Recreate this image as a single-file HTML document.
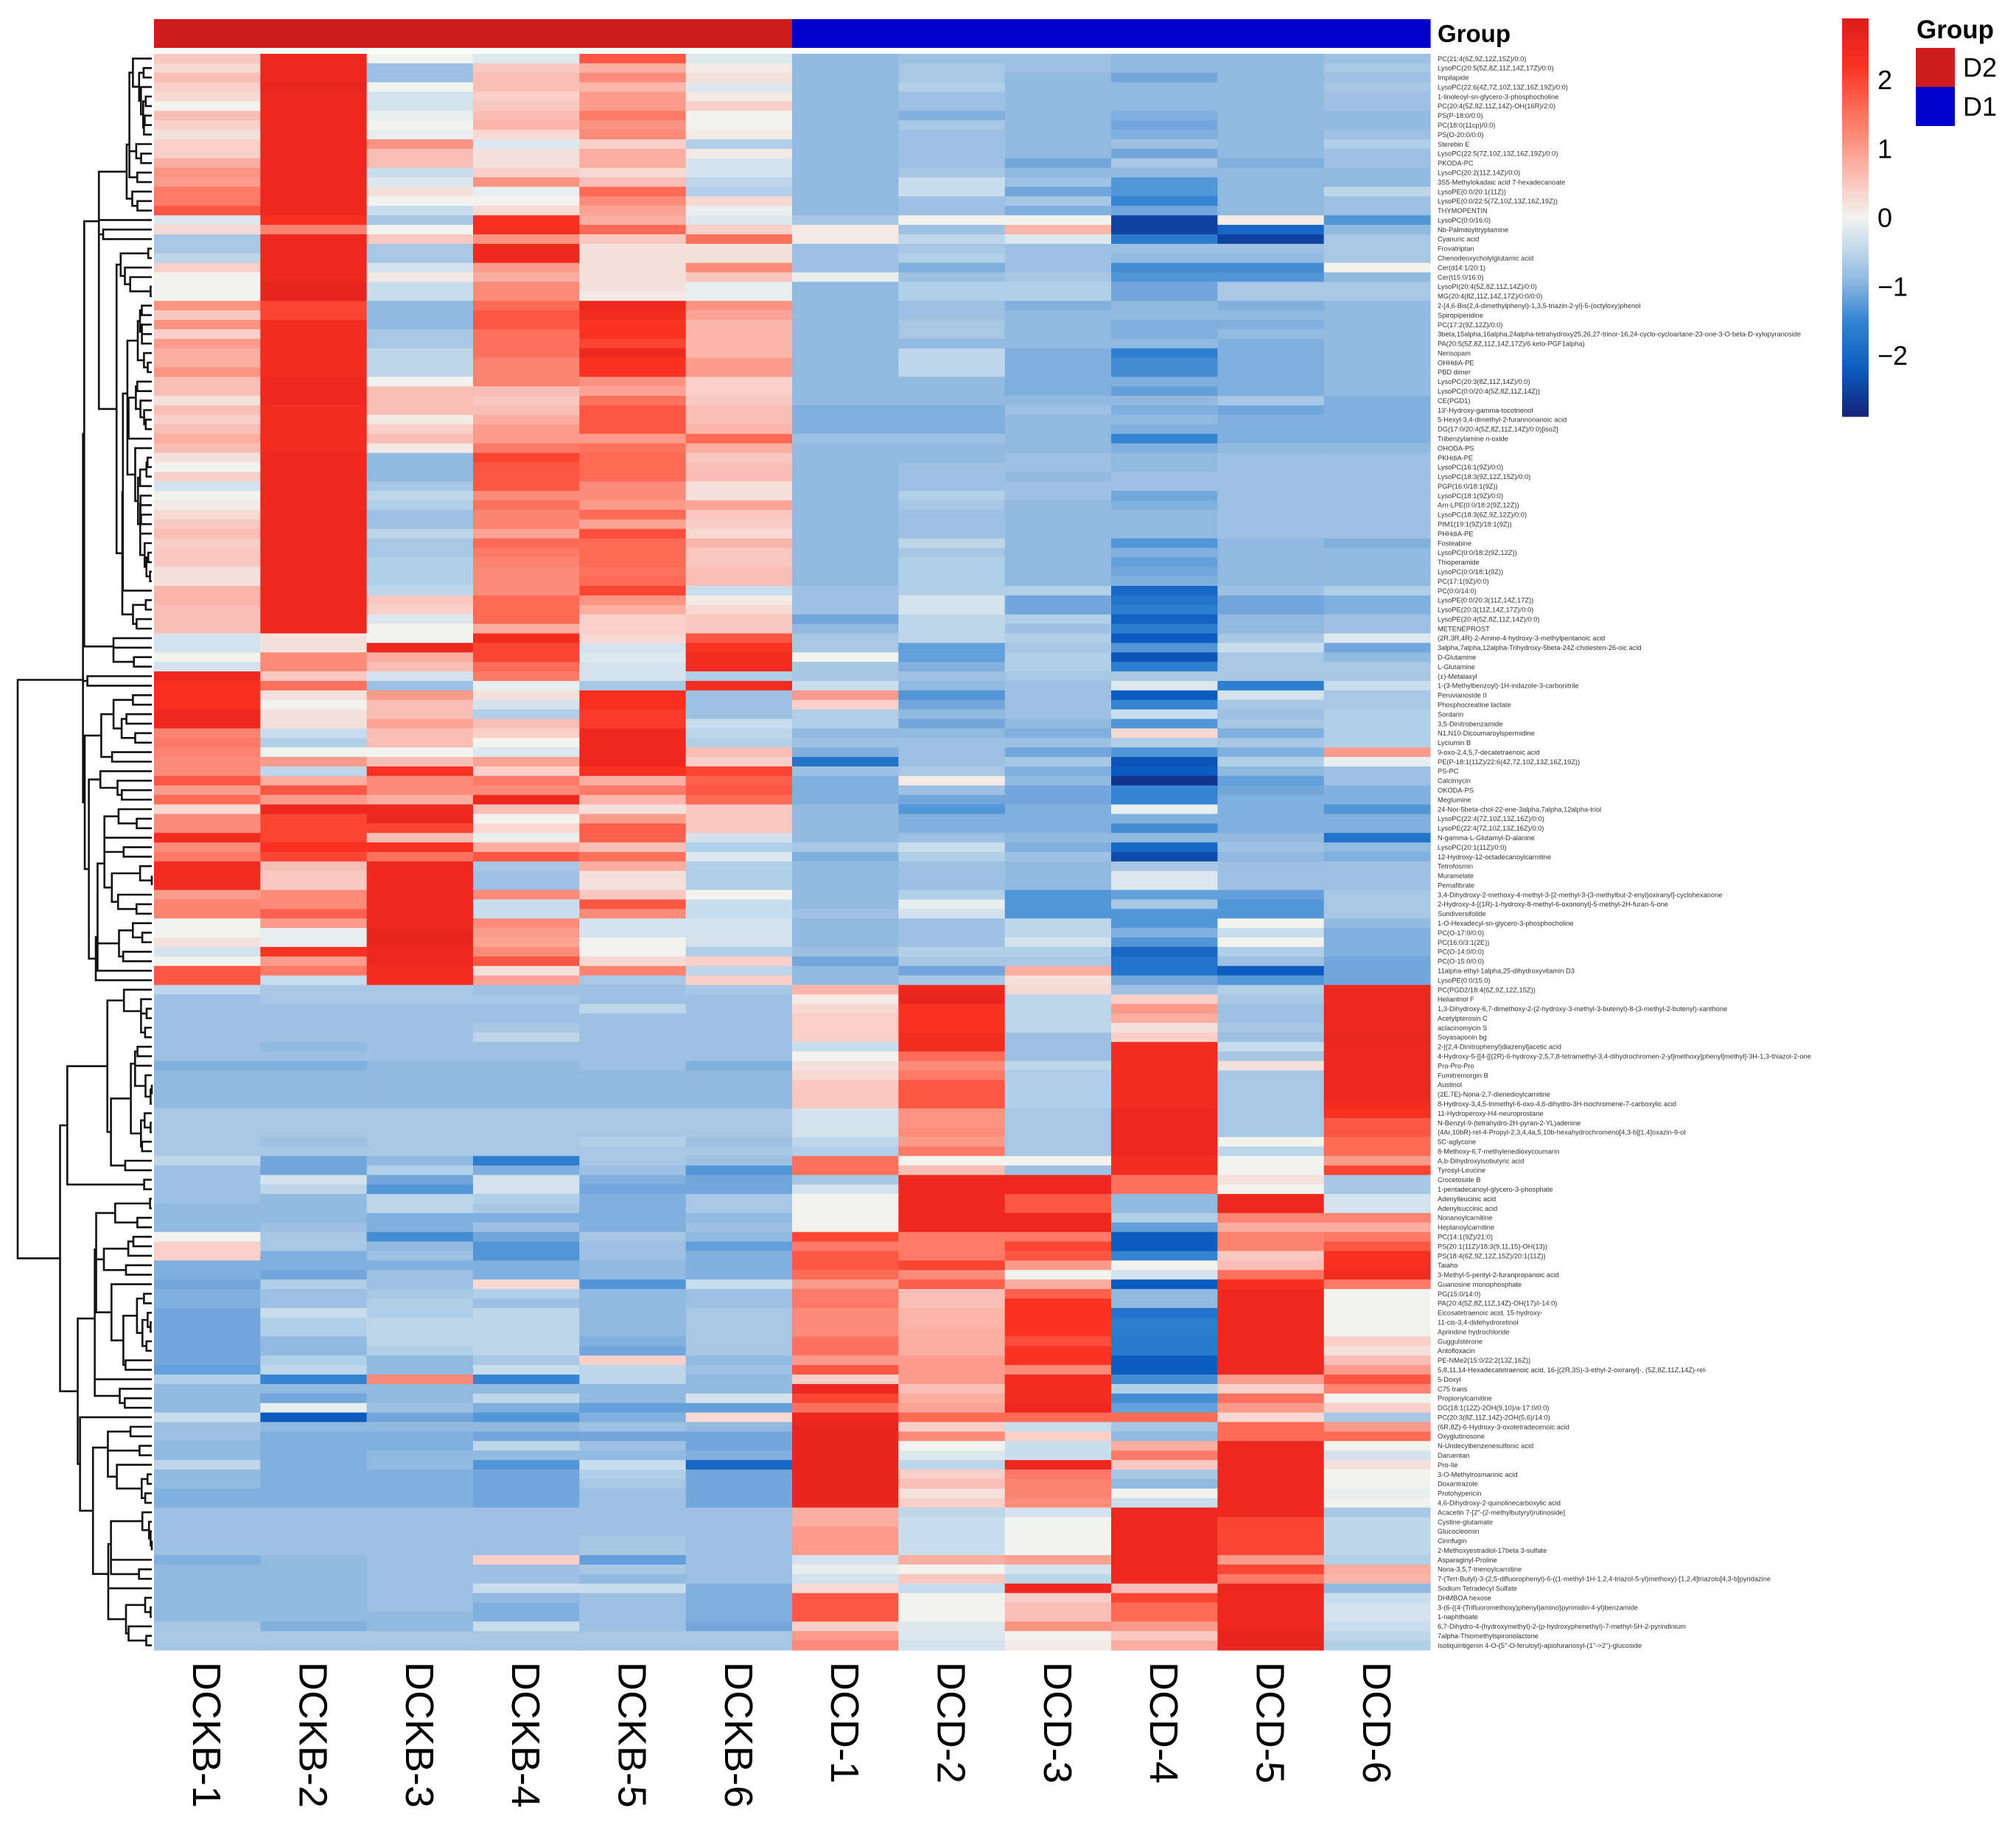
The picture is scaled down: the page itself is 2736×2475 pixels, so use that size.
<!DOCTYPE html>
<html><head><meta charset="utf-8"><style>
html,body{margin:0;padding:0;background:#fff;}
svg{display:block;}
text{font-family:"Liberation Sans",Arial,sans-serif;}
</style></head><body>
<svg id="chart" width="2736" height="2475" viewBox="0 0 2736 2475" xmlns="http://www.w3.org/2000/svg">
  <g id="dendro"></g>
  <g id="cells"></g>
  <g id="groupbar"></g>
  <text x="1951" y="57" font-size="33" font-weight="bold" fill="#000">Group</text>
  <g id="rowlabels"></g>
  <g id="collabels"></g>
  <g id="colorbar"></g>
  <g>
    <text x="2601" y="52" font-size="35" font-weight="bold" fill="#000">Group</text>
    <rect x="2600" y="65" width="53" height="53" fill="#cd1c1e"/>
    <rect x="2600" y="118" width="53" height="53" fill="#0000cd"/>
    <text x="2664" y="104" font-size="36" fill="#000">D2</text>
    <text x="2664" y="157" font-size="36" fill="#000">D1</text>
  </g>
</svg>
<script>
const samples = ["DCKB-1","DCKB-2","DCKB-3","DCKB-4","DCKB-5","DCKB-6","DCD-1","DCD-2","DCD-3","DCD-4","DCD-5","DCD-6"];
const sampleGroups = ["D2","D2","D2","D2","D2","D2","D1","D1","D1","D1","D1","D1"];
const colorTicks = [2,1,0,-1,-2];
const metabolites = ["PC(21:4(6Z,9Z,12Z,15Z)/0:0)","LysoPC(20:5(5Z,8Z,11Z,14Z,17Z)/0:0)","Impilapide","LysoPC(22:6(4Z,7Z,10Z,13Z,16Z,19Z)/0:0)","1-linoleoyl-sn-glycero-3-phosphocholine","PC(20:4(5Z,8Z,11Z,14Z)-OH(16R)/2:0)","PS(P-18:0/0:0)","PC(18:0(11cp)/0:0)","PS(O-20:0/0:0)","Sterebin E","LysoPC(22:5(7Z,10Z,13Z,16Z,19Z)/0:0)","PKODA-PC","LysoPC(20:2(11Z,14Z)/0:0)","3S5-Methylokadaic acid 7-hexadecanoate","LysoPE(0:0/20:1(11Z))","LysoPE(0:0/22:5(7Z,10Z,13Z,16Z,19Z))","THYMOPENTIN","LysoPC(0:0/16:0)","Nb-Palmitoyltryptamine","Cyanuric acid","Frovatriptan","Chenodeoxycholylglutamic acid","Cer(d14:1/20:1)","Cer(t15:0/16:0)","LysoPI(20:4(5Z,8Z,11Z,14Z)/0:0)","MG(20:4(8Z,11Z,14Z,17Z)/0:0/0:0)","2-[4,6-Bis(2,4-dimethylphenyl)-1,3,5-triazin-2-yl]-5-(octyloxy)phenol","Spiropiperidine","PC(17:2(9Z,12Z)/0:0)","3beta,15alpha,16alpha,24alpha-tetrahydroxy25,26,27-trinor-16,24-cyclo-cycloartane-23-one-3-O-beta-D-xylopyranoside","PA(20:5(5Z,8Z,11Z,14Z,17Z)/6 keto-PGF1alpha)","Nerisopam","OHHdiA-PE","PBD dimer","LysoPC(20:3(8Z,11Z,14Z)/0:0)","LysoPC(0:0/20:4(5Z,8Z,11Z,14Z))","CE(PGD1)","13'-Hydroxy-gamma-tocotrienol","5-Hexyl-3,4-dimethyl-2-furannonanoic acid","DG(17:0/20:4(5Z,8Z,11Z,14Z)/0:0)[iso2]","Tribenzylamine n-oxide","OHODA-PS","PKHdiA-PE","LysoPC(16:1(9Z)/0:0)","LysoPC(18:3(9Z,12Z,15Z)/0:0)","PGP(16:0/18:1(9Z))","LysoPC(18:1(9Z)/0:0)","Arn-LPE(0:0/18:2(9Z,12Z))","LysoPC(18:3(6Z,9Z,12Z)/0:0)","PIM1(19:1(9Z)/18:1(9Z))","PHHdiA-PE","Fosteabine","LysoPC(0:0/18:2(9Z,12Z))","Thioperamide","LysoPC(0:0/18:1(9Z))","PC(17:1(9Z)/0:0)","PC(0:0/14:0)","LysoPE(0:0/20:3(11Z,14Z,17Z))","LysoPE(20:3(11Z,14Z,17Z)/0:0)","LysoPE(20:4(5Z,8Z,11Z,14Z)/0:0)","METENEPROST","(2R,3R,4R)-2-Amino-4-hydroxy-3-methylpentanoic acid","3alpha,7alpha,12alpha-Trihydroxy-5beta-24Z-cholesten-26-oic acid","D-Glutamine","L-Glutamine","(±)-Metalaxyl","1-(3-Methylbenzoyl)-1H-indazole-3-carbonitrile","Peruvianoside II","Phosphocreatine lactate","Sordarin","3,5-Dinitrobenzamide","N1,N10-Dicoumaroylspermidine","Lyciumin B","9-oxo-2,4,5,7-decatetraenoic acid","PE(P-18:1(11Z)/22:6(4Z,7Z,10Z,13Z,16Z,19Z))","PS-PC","Calcimycin","OKODA-PS","Meglumine","24-Nor-5beta-chol-22-ene-3alpha,7alpha,12alpha-triol","LysoPC(22:4(7Z,10Z,13Z,16Z)/0:0)","LysoPE(22:4(7Z,10Z,13Z,16Z)/0:0)","N-gamma-L-Glutamyl-D-alanine","LysoPC(20:1(11Z)/0:0)","12-Hydroxy-12-octadecanoylcarnitine","Tetrofosmin","Muramelate","Pemafibrate","3,4-Dihydroxy-2-methoxy-4-methyl-3-[2-methyl-3-(3-methylbut-2-enyl)oxiranyl]-cyclohexanone","2-Hydroxy-4-[(1R)-1-hydroxy-8-methyl-6-oxononyl]-5-methyl-2H-furan-5-one","Sundiversifolide","1-O-Hexadecyl-sn-glycero-3-phosphocholine","PC(O-17:0/0:0)","PC(16:0/3:1(2E))","PC(O-14:0/0:0)","PC(O-15:0/0:0)","11alpha-ethyl-1alpha,25-dihydroxyvitamin D3","LysoPE(0:0/15:0)","PC(PGD2/18:4(6Z,9Z,12Z,15Z))","Heliantriol F","1,3-Dihydroxy-6,7-dimethoxy-2-(2-hydroxy-3-methyl-3-butenyl)-8-(3-methyl-2-butenyl)-xanthone","Acetylpterosin C","aclacinomycin S","Soyasaponin bg","2-[(2,4-Dinitrophenyl)diazenyl]acetic acid","4-Hydroxy-5-[[4-[[(2R)-6-hydroxy-2,5,7,8-tetramethyl-3,4-dihydrochromen-2-yl]methoxy]phenyl]methyl]-3H-1,3-thiazol-2-one","Pro-Pro-Pro","Fumitremorgin B","Austinol","(2E,7E)-Nona-2,7-dienedioylcarnitine","8-Hydroxy-3,4,5-trimethyl-6-oxo-4,6-dihydro-3H-isochromene-7-carboxylic acid","11-Hydroperoxy-H4-neuroprostane","N-Benzyl-9-(tetrahydro-2H-pyran-2-YL)adenine","(4Ar,10bR)-rel-4-Propyl-2,3,4,4a,5,10b-hexahydrochromeno[4,3-b][1,4]oxazin-9-ol","5C-aglycone","8-Methoxy-6,7-methylenedioxycoumarin","A,b-Dihydroxyisobutyric acid","Tyrosyl-Leucine","Crocetoside B","1-pentadecanoyl-glycero-3-phosphate","Adenylleucinic acid","Adenylsuccinic acid","Nonanoylcarnitine","Heptanoylcarnitine","PC(14:1(9Z)/21:0)","PS(20:1(11Z)/18:3(9,11,15)-OH(13))","PS(18:4(6Z,9Z,12Z,15Z)/20:1(11Z))","Taiaho","3-Methyl-5-pentyl-2-furanpropanoic acid","Guanosine monophosphate","PG(15:0/14:0)","PA(20:4(5Z,8Z,11Z,14Z)-OH(17)/i-14:0)","Eicosatetraenoic acid, 15-hydroxy-","11-cis-3,4-didehydroretinol","Aprindine hydrochloride","Guggulsterone","Antofloxacin","PE-NMe2(15:0/22:2(13Z,16Z))","5,8,11,14-Hexadecatetraenoic acid, 16-[(2R,3S)-3-ethyl-2-oxiranyl]-, (5Z,8Z,11Z,14Z)-rel-","5-Doxyl","C75 trans","Propionylcarnitine","DG(18:1(12Z)-2OH(9,10)/a-17:0/0:0)","PC(20:3(8Z,11Z,14Z)-2OH(5,6)/14:0)","(6R,8Z)-6-Hydroxy-3-oxotetradecenoic acid","Oxyglutinosone","N-Undecylbenzenesulfonic acid","Daruentan","Pro-Ile","3-O-Methylrosmarinic acid","Doxantrazole","Protohypericin","4,6-Dihydroxy-2-quinolinecarboxylic acid","Acacetin 7-[2''-(2-methylbutyryl)rutinoside]","Cystine-glutamate","Glucocleomin","Cinnfugin","2-Methoxyestradiol-17beta 3-sulfate","Asparaginyl-Proline","Nona-3,5,7-trienoylcarnitine","7-(Tert-Butyl)-3-(2,5-difluorophenyl)-6-((1-methyl-1H-1,2,4-triazol-5-yl)methoxy)-[1,2,4]triazolo[4,3-b]pyridazine","Sodium Tetradecyl Sulfate","DHMBOA hexose","3-(6-{(4-(Trifluoromethoxy)phenyl)amino}pyrimidin-4-yl)benzamide","1-naphthoate","6,7-Dihydro-4-(hydroxymethyl)-2-(p-hydroxyphenethyl)-7-methyl-5H-2-pyrindinium","7alpha-Thiomethylspironolactone","Isoliquiritigenin 4-O-(5''-O-feruloyl)-apiofuranosyl-(1''->2'')-glucoside"];
// z-scores for the six DCKB (D2) samples, one row per metabolite
const dckbValues = [
[0.5,2.5,0,-0.2,1.8,-0.2],[0.3,2.5,-0.8,0.5,0.8,0.1],[0.6,2.5,-0.8,0.6,1.2,0.2],[0.4,2.6,0,0.6,0.7,-0.2],[0.3,2.5,-0.3,0.4,1.0,0.1],[0,2.5,-0.3,0.5,1.0,0.4],[0.6,2.5,-0.1,0.6,1.4,0],[0.4,2.5,0,0.7,1.1,0],[0.2,2.5,-0.1,0.3,1.2,0.1],[0.4,2.5,1.1,-0.2,0.4,-0.6],
[0.4,2.5,0.6,0.2,0.8,0.1],[0.8,2.5,0.6,0.2,0.8,-0.3],[1.1,2.5,-0.4,0.4,0.3,-0.3],[1.0,2.5,-0.2,1.1,0.6,-0.5],[1.4,2.5,0.2,-0.1,1.6,-0.6],[1.4,2.5,0,0,1.2,0.3],[1.8,2.5,-0.4,0.3,0.9,-0.1],[-0.2,2.3,-0.7,2.3,0.8,-0.2],[0.3,1.3,0,2.3,1.6,0.4],[-0.7,2.5,0.5,1.1,0.5,1.5],
[-0.7,2.5,-0.7,2.5,0.2,0.2],[-0.5,2.5,-0.7,2.5,0.2,0.2],[0.4,2.5,-0.3,1.0,0.2,1.2],[0,2.5,0.1,0.8,0.2,0.5],[0,2.6,-0.4,1.2,0.2,-0.1],[0,2.6,-0.4,1.2,0.1,-0.1],[1.1,2.0,-0.9,1.6,2.5,1.1],[0.5,2.0,-0.9,1.8,2.4,0.9],[1.1,2.4,-0.9,1.8,2.2,0.7],[0.4,2.4,-0.7,1.5,2.2,0.7],
[1.0,2.4,-0.7,1.5,2.0,0.7],[0.8,2.4,-0.5,1.5,2.5,0.7],[0.8,2.4,-0.5,1.3,2.2,1.0],[1.1,2.4,-0.5,1.3,2.2,1.0],[0.6,2.5,0,1.3,1.1,0.4],[0.6,2.5,0.6,0.6,0.9,0.4],[0.2,2.5,0.6,0.5,1.5,0.5],[0.6,2.4,0.6,0.6,1.8,0.6],[0.4,2.4,0.1,0.8,1.8,0.6],[0.6,2.4,0.4,1.0,1.8,0.7],
[0.8,2.4,0.6,1.0,1.0,1.6],[0.6,2.4,0.1,1.4,1.5,0.8],[0.2,2.5,-0.9,2.0,1.6,0.5],[0,2.5,-0.9,1.8,1.6,0.6],[0.4,2.5,-0.9,1.8,1.6,0.6],[-0.3,2.5,-0.7,1.8,1.2,0.2],[0,2.5,-0.5,1.2,1.2,0.2],[0.1,2.5,-0.6,1.5,1.0,0.9],[0.3,2.5,-0.8,1.3,1.6,0.5],[0.5,2.5,-0.8,1.3,0.9,0.4],
[0.6,2.5,-0.5,0.9,1.9,0.3],[0.4,2.5,-0.7,1.6,1.6,0.7],[0.5,2.5,-0.7,1.4,1.6,0.5],[0.5,2.5,-0.6,1.3,1.6,0.5],[0.2,2.5,-0.6,1.2,1.5,0.6],[0.2,2.5,-0.6,1.2,1.6,0.6],[0.7,2.5,-0.5,1.2,2.0,-0.4],[0.7,2.5,0.5,1.6,1.1,0.1],[0.6,2.5,0.4,1.6,0.8,0.3],[0.6,2.5,-0.2,1.6,0.4,0.5],
[0.6,2.5,0,0.8,0.4,0.5],[-0.3,0.2,0,2.4,0.3,1.8],[-0.3,0.2,2.5,2.0,-0.3,2.2],[0,1.2,0.8,2.0,-0.2,2.4],[-0.3,1.2,0.6,1.6,-0.3,2.4],[2.5,0.5,-0.3,1.4,-0.3,-0.6],[2.3,1.5,-0.8,-0.1,-0.7,2.4],[2.3,0.2,1.0,0.2,2.3,-0.8],[2.3,0,0.6,-0.3,2.3,-0.8],[2.5,0.2,0.6,-0.6,2.1,-0.8],
[2.5,0.2,0.9,0.6,2.1,-0.4],[1.3,-0.4,0.6,0.4,2.5,-0.5],[1.4,-0.6,0.6,0,2.5,-0.6],[1.3,0,0,-0.2,2.5,0.6],[1.2,1.0,0.6,0.9,2.5,0.4],[1.2,-0.5,2.2,0.4,2.3,2.0],[1.8,0.8,1.2,1.4,0.8,1.7],[1.0,1.8,1.2,1.2,1.4,1.8],[1.6,1.0,0.8,2.5,0.7,1.6],[0.3,2.5,2.5,0.6,0.2,0.5],
[1.2,2.0,2.5,0,1.0,0.5],[1.2,2.0,2.0,0.3,1.7,0.5],[2.4,2.0,0.6,-0.1,1.7,-0.3],[1.2,2.3,2.3,0.8,0.6,-0.6],[1.4,2.0,1.5,1.8,1.5,-0.2],[2.4,0.6,2.5,-0.7,0.8,-0.6],[2.4,0.5,2.5,-0.8,0.2,-0.6],[2.4,0.5,2.5,-0.8,0.2,-0.6],[1.0,1.2,2.5,1.2,0.5,0],[1.3,1.2,2.5,-0.4,1.8,-0.4],
[1.3,1.7,2.5,-0.4,1.2,-0.4],[0,1.0,2.5,1.2,-0.3,-0.3],[0,-0.1,2.6,1.0,-0.3,-0.3],[0.2,-0.1,2.6,0.9,0,-0.3],[-0.3,2.2,2.5,1.2,0,-0.6],[0,1.0,2.5,1.8,0.3,0.4],[1.8,1.4,2.4,0.2,1.3,-0.5],[1.8,-0.4,2.4,0.9,-0.7,0.4],[-0.5,-0.7,-0.7,-0.8,-0.8,-0.7],[-0.8,-0.7,-0.7,-0.7,-0.8,-0.8],
[-0.8,-0.8,-0.8,-0.8,-0.5,-0.8],[-0.8,-0.8,-0.8,-0.8,-0.8,-0.8],[-0.8,-0.8,-0.8,-0.7,-0.8,-0.8],[-0.8,-0.8,-0.8,-0.5,-0.8,-0.8],[-0.8,-0.9,-0.8,-0.8,-0.8,-0.8],[-0.8,-0.8,-0.8,-0.8,-0.8,-0.8],[-1.0,-1.0,-0.9,-0.9,-0.8,-1.0],[-0.9,-0.9,-0.9,-0.9,-0.9,-0.9],[-0.9,-0.9,-0.9,-0.9,-0.9,-0.9],[-0.9,-0.9,-0.9,-0.9,-0.9,-0.9],
[-0.9,-0.9,-0.9,-0.9,-0.9,-0.9],[-0.7,-0.7,-0.7,-0.7,-0.7,-0.7],[-0.7,-0.7,-0.7,-0.7,-0.7,-0.7],[-0.7,-0.7,-0.7,-0.7,-0.7,-0.7],[-0.7,-0.8,-0.7,-0.7,-0.6,-0.8],[-0.7,-0.7,-0.7,-0.7,-0.7,-0.7],[-0.5,-1.1,-0.9,-1.6,-0.7,-0.8],[-0.8,-1.1,-0.6,-1.0,-0.8,-1.3],[-0.8,-0.3,-1.1,-0.3,-1.0,-1.1],[-0.8,-0.5,-1.3,-0.3,-1.1,-1.1],
[-0.8,-0.9,-0.5,-0.6,-1.0,-0.7],[-0.9,-0.9,-0.5,-0.7,-1.0,-0.7],[-0.9,-0.9,-1.0,-1.0,-1.0,-0.9],[-0.9,-0.8,-1.0,-0.8,-1.0,-0.8],[0,-0.7,-1.4,-1.1,-0.7,-0.9],[0.4,-0.7,-0.9,-1.3,-0.8,-1.2],[0.4,-1.0,-0.8,-1.3,-0.8,-1.0],[-1.0,-1.0,-1.0,-1.0,-0.9,-1.0],[-1.0,-1.1,-0.8,-1.0,-0.9,-1.0],[-1.1,-0.6,-0.8,0.3,-1.3,-0.4],
[-1.0,-0.8,-0.7,-0.6,-0.9,-0.8],[-1.0,-0.8,-0.6,-0.8,-0.9,-0.8],[-1.1,-0.4,-0.6,-0.5,-0.9,-0.7],[-1.1,-0.6,-0.5,-0.5,-0.9,-0.7],[-1.1,-0.6,-0.5,-0.5,-0.9,-0.7],[-1.1,-0.9,-0.5,-0.5,-1.0,-0.7],[-1.1,-0.9,-0.6,-0.5,-1.1,-0.7],[-1.1,-0.6,-0.9,-0.7,0.4,-0.9],[-1.2,-0.5,-0.9,-0.4,-0.5,-0.8],[-0.6,-1.5,1.2,-1.5,-0.5,-0.9],
[-0.9,-0.9,-0.9,-0.9,-0.9,-0.9],[-0.9,-1.1,-0.9,-0.5,-0.9,-0.3],[-0.9,-0.1,-0.8,-1.0,-1.2,-1.2],[-0.4,-2.2,-1.1,-1.3,-1.0,0.3],[-0.8,-0.9,-0.9,-0.9,-0.8,-0.9],[-0.8,-1.0,-1.0,-1.1,-1.1,-1.1],[-0.9,-1.0,-1.0,-0.5,-0.8,-1.1],[-0.9,-1.0,-0.9,-0.9,-0.9,-1.0],[-0.5,-1.0,-0.9,-1.3,-0.4,-2.0],[-0.9,-1.0,-1.0,-1.1,-0.6,-1.1],
[-0.9,-1.0,-1.0,-1.1,-0.7,-1.1],[-1.0,-1.0,-1.0,-1.1,-0.8,-1.1],[-1.0,-1.0,-1.0,-1.1,-0.8,-1.1],[-0.8,-0.8,-0.8,-0.8,-0.8,-0.8],[-0.8,-0.8,-0.8,-0.8,-0.8,-0.8],[-0.8,-0.8,-0.8,-0.8,-0.8,-0.8],[-0.8,-0.8,-0.8,-0.8,-0.7,-0.8],[-0.8,-0.8,-0.8,-0.8,-0.7,-0.8],[-1.0,-0.9,-0.8,0.4,-1.2,-0.8],[-0.9,-0.9,-0.8,-0.8,-0.7,-0.8],
[-0.9,-0.9,-0.8,-0.8,-0.9,-0.8],[-0.9,-0.9,-0.8,-0.4,-0.4,-1.0],[-0.9,-0.9,-0.8,-0.9,-0.8,-1.0],[-0.9,-0.9,-0.8,-1.0,-0.8,-1.0],[-0.9,-0.9,-0.9,-1.0,-0.8,-1.0],[-0.7,-1.0,-0.9,-0.4,-0.8,-1.1],[-0.7,-0.7,-0.7,-0.7,-0.7,-0.7],[-0.7,-0.7,-0.7,-0.7,-0.7,-0.7]
];
// z-scores for the six DCD (D1) samples, one row per metabolite
const dcdValues = [
[-0.9,-0.8,-0.8,-0.9,-0.9,-0.8],[-0.9,-0.7,-0.8,-0.9,-0.9,-0.7],[-0.9,-0.7,-0.9,-1.1,-0.9,-0.8],[-0.9,-0.6,-0.9,-0.9,-0.9,-0.7],[-0.9,-0.8,-0.9,-0.9,-0.9,-0.8],[-0.9,-0.8,-0.9,-0.9,-0.9,-0.8],[-0.9,-1.0,-0.9,-1.0,-0.9,-0.9],[-0.9,-0.7,-0.9,-1.1,-0.9,-0.9],[-0.9,-0.8,-0.9,-1.0,-0.9,-0.8],[-0.9,-0.8,-0.9,-0.8,-0.9,-0.6],
[-0.9,-0.8,-0.9,-1.1,-0.9,-0.8],[-0.9,-0.8,-1.1,-0.7,-1.0,-0.8],[-0.9,-0.7,-0.9,-0.9,-0.9,-0.9],[-0.9,-0.4,-0.8,-1.3,-0.9,-0.9],[-0.9,-0.4,-1.1,-1.3,-0.9,-0.5],[-0.9,-0.8,-0.7,-1.5,-0.9,-0.8],[-0.9,-0.8,-1.0,-1.1,-0.9,-0.8],[-0.7,0,0,-2.5,0.1,-1.3],[0.1,-0.8,0.7,-2.5,-2.0,-0.9],[0.1,-0.5,-0.2,-1.7,-2.5,-0.7],
[-0.8,-0.7,-0.8,-0.8,-0.8,-0.7],[-0.8,-0.6,-0.8,-0.9,-0.9,-0.7],[-0.8,-1.0,-0.8,-1.4,-1.4,0],[-0.1,-0.8,-0.7,-1.3,-1.3,-0.9],[-0.9,-0.6,-0.6,-1.1,-0.7,-0.7],[-0.9,-0.6,-0.6,-1.1,-0.7,-0.7],[-0.9,-0.8,-1.0,-0.9,-1.0,-0.9],[-0.9,-0.8,-0.9,-0.9,-0.9,-0.9],[-0.9,-0.7,-0.9,-1.0,-1.0,-0.9],[-0.9,-0.7,-0.9,-1.0,-0.9,-0.9],
[-0.9,-0.9,-0.9,-0.9,-1.0,-0.9],[-0.9,-0.5,-1.0,-1.6,-1.0,-0.9],[-0.9,-0.5,-1.0,-1.4,-1.0,-0.9],[-0.9,-0.5,-1.0,-1.4,-1.0,-0.9],[-0.9,-0.9,-1.0,-1.0,-1.0,-0.9],[-0.9,-0.9,-1.0,-1.2,-1.0,-0.9],[-0.9,-0.9,-0.9,-0.9,-0.7,-1.0],[-1.0,-1.0,-0.8,-1.0,-1.1,-1.0],[-1.0,-1.0,-0.9,-0.9,-1.0,-1.0],[-1.0,-1.0,-0.9,-1.0,-1.0,-1.0],
[-0.8,-0.8,-0.9,-1.5,-1.0,-1.0],[-0.9,-0.9,-0.9,-1.0,-0.9,-0.9],[-0.9,-0.9,-0.8,-0.9,-0.8,-0.8],[-0.9,-0.8,-0.8,-0.9,-0.8,-0.8],[-0.9,-0.8,-0.9,-0.8,-0.8,-0.8],[-0.9,-0.8,-0.8,-0.8,-0.8,-0.8],[-0.9,-0.6,-0.8,-1.1,-0.8,-0.8],[-0.9,-0.7,-0.9,-1.0,-0.8,-0.8],[-0.9,-0.8,-0.9,-0.9,-0.8,-0.8],[-0.9,-0.8,-0.9,-0.9,-0.8,-0.8],
[-0.9,-0.8,-0.9,-0.9,-0.8,-0.8],[-0.9,-0.5,-0.9,-1.3,-0.9,-1.0],[-0.9,-0.7,-0.9,-1.0,-0.9,-0.9],[-0.9,-0.6,-0.9,-1.2,-0.9,-0.9],[-0.9,-0.6,-0.9,-1.1,-0.9,-0.9],[-0.9,-0.6,-0.9,-1.0,-0.9,-0.9],[-0.8,-0.6,-0.6,-2.0,-0.8,-0.6],[-0.8,-0.3,-1.1,-1.8,-1.1,-1.0],[-0.8,-0.3,-1.1,-1.6,-1.1,-1.0],[-1.1,-0.5,-0.6,-2.1,-0.9,-0.8],
[-0.9,-0.5,-0.8,-1.6,-0.9,-0.8],[-0.7,-0.5,-0.6,-2.2,-0.7,-0.2],[-0.7,-1.2,-0.7,-1.3,-0.4,-1.1],[0,-1.2,-0.6,-2.3,-0.7,-0.9],[-0.7,-1.0,-0.6,-1.6,-0.7,-0.7],[-0.7,-0.8,-0.7,-0.7,-0.7,-0.7],[-0.4,-0.9,-0.8,-0.2,-1.6,-0.4],[1.0,-1.3,-0.8,-2.2,-0.3,-0.7],[0.4,-1.1,-0.8,-1.5,-0.7,-0.7],[-0.6,-0.9,-0.8,-0.4,-0.8,-0.6],
[-0.6,-1.1,-0.9,-1.3,-0.7,-0.6],[-0.9,-0.9,-1.0,0.3,-1.0,-0.6],[-0.8,-0.8,-0.8,-0.6,-0.7,-0.6],[-1.0,-0.8,-1.1,-1.3,-1.0,1.0],[-1.8,-0.8,-0.7,-2.3,-0.6,-0.1],[-0.8,-0.7,-1.0,-2.2,-0.9,-0.8],[-1.0,0.1,-0.9,-2.7,-1.2,-0.8],[-1.0,-0.8,-1.1,-1.5,-1.1,-1.0],[-1.0,-1.1,-1.1,-1.5,-1.0,-1.0],[-0.9,-1.3,-1.0,-0.1,-1.0,-1.3],
[-0.9,-1.0,-1.0,-1.0,-1.0,-1.0],[-0.9,-1.0,-1.0,-1.4,-1.0,-1.0],[-0.9,-0.8,-0.9,-0.9,-0.9,-1.8],[-0.7,-0.4,-1.0,-2.0,-0.8,-0.9],[-1.0,-0.6,-0.8,-2.4,-0.9,-1.0],[-0.9,-0.8,-0.9,-0.7,-0.8,-0.8],[-0.9,-0.8,-0.9,-0.2,-0.8,-0.8],[-0.9,-0.8,-0.9,-0.2,-0.8,-0.8],[-0.9,-0.6,-1.3,-1.2,-1.2,-0.7],[-0.9,-0.1,-1.3,-0.7,-1.3,-0.7],
[-0.8,-0.3,-1.3,-1.3,-1.3,-0.7],[-0.9,-0.8,-0.5,-1.3,0,-0.9],[-0.9,-0.8,-0.5,-1.0,-0.4,-1.0],[-0.9,-0.8,-0.3,-1.3,0,-1.0],[-0.8,-0.6,-0.6,-2.0,-0.6,-1.0],[-1.1,-0.7,-0.7,-1.8,-0.8,-1.1],[-0.9,-1.1,0.8,-1.8,-2.2,-1.1],[-0.9,-0.7,0.2,-1.1,-1.3,-1.1],[0.7,2.5,0.3,-0.8,-0.6,2.5],[0.1,2.6,-0.5,0.4,-0.7,2.5],
[0.3,2.2,-0.5,1.0,-0.8,2.5],[0.4,2.2,-0.5,0.8,-0.8,2.5],[0.4,2.2,-0.5,0.2,-0.7,2.5],[0.4,2.4,-0.8,0.4,-0.8,2.6],[-0.4,2.4,-0.8,2.4,-0.4,2.5],[0,1.6,-0.8,2.4,-0.7,2.5],[0.2,1.2,-0.5,2.4,0.2,2.5],[0.3,1.4,-0.6,2.4,-0.7,2.5],[0.5,1.8,-0.6,2.4,-0.7,2.5],[0.5,1.8,-0.6,2.4,-0.7,2.5],
[0.5,1.8,-0.6,2.4,-0.7,2.4],[-0.3,1.1,-0.7,2.5,-0.7,2.3],[-0.3,1.1,-0.7,2.5,-0.7,1.8],[-0.3,1.2,-0.7,2.5,-0.7,1.8],[-0.5,1.0,-0.7,2.5,0,1.6],[-0.6,1.4,-0.7,2.5,-0.5,1.6],[1.5,0,0,2.4,0,1.0],[1.5,0.6,-0.8,2.4,0,2.0],[-0.7,2.5,2.5,1.5,0.2,-0.7],[-0.3,2.5,2.5,1.5,0,-0.7],
[0,2.5,1.8,-0.9,2.5,-0.3],[0,2.5,1.8,-0.9,2.5,-0.3],[0,2.5,2.5,-0.6,1.3,1.3],[0,2.5,2.5,-1.2,0.8,0.8],[2.0,1.4,1.4,-2.2,1.3,1.4],[1.4,1.4,2.0,-2.2,1.3,1.8],[1.8,1.4,1.8,-1.5,0.5,2.3],[1.8,2.0,1.0,0,0.6,2.3],[1.6,1.2,0,-0.3,1.5,2.4],[1.0,1.7,0.8,-2.2,2.3,1.4],
[1.4,0.6,1.7,-0.9,2.5,0],[1.4,0.6,2.2,-0.9,2.5,0],[1.2,0.7,2.2,-1.8,2.5,0],[1.2,0.7,2.2,-1.6,2.5,0],[1.2,0.8,2.2,-1.6,2.5,0],[1.5,0.8,1.9,-1.7,2.5,0.4],[1.5,0.8,2.2,-1.7,2.5,0.2],[1.0,1.0,2.2,-2.2,2.5,0.6],[1.8,1.0,1.2,-2.2,2.5,1.0],[0.4,1.0,2.4,-1.4,1.0,1.8],
[2.5,0.6,2.4,-0.6,0.4,1.3],[2.0,0.8,2.4,-1.4,1.5,0],[1.5,0.9,2.5,-1.2,1.0,0.4],[2.5,1.6,1.6,1.6,0.3,-0.7],[2.6,0.4,-0.4,-0.7,1.6,1.0],[2.6,1.2,0.4,-0.9,1.6,1.6],[2.6,0,-0.4,0.8,2.5,0],[2.6,-0.2,-0.4,1.4,2.5,-0.3],[2.6,-0.5,2.5,0.5,2.5,0.2],[2.6,0.4,1.4,-0.7,2.5,0],
[2.6,0.6,1.3,-0.9,2.5,0],[2.6,0.2,1.3,0,2.5,-0.1],[2.6,0.4,1.2,-0.4,2.5,0],[0.8,-0.5,-0.3,2.5,2.5,-0.7],[0.8,-0.4,0,2.5,2.0,-0.5],[1.0,-0.4,0,2.5,2.0,-0.5],[1.0,-0.4,0,2.5,2.0,-0.5],[1.0,-0.4,0,2.5,2.0,-0.5],[-0.3,0.8,0.9,2.5,1.0,-0.6],[-0.1,0,-0.3,2.5,2.0,0.8],
[-0.3,0.5,-0.5,2.5,1.4,0.7],[0.3,-0.4,2.5,0.6,2.5,-0.9],[1.8,0,0.4,2.0,2.5,-0.4],[1.8,0,0.6,1.6,2.5,-0.3],[1.8,0,0.6,1.6,2.5,-0.3],[0.4,-0.2,1.1,1.0,2.5,-0.4],[1.0,-0.2,0,0.5,2.6,-0.5],[1.2,-0.3,0.1,0.8,2.6,-0.6]
];

const NS = "http://www.w3.org/2000/svg";
const X0 = 209, X1 = 1941, Y0 = 73, Y1 = 2239;
const nRows = metabolites.length, nCols = samples.length;
const cw = (X1 - X0) / nCols, rh = (Y1 - Y0) / nRows;
const xScale = c => X0 + c * cw;
const yScale = r => Y0 + r * rh;
const stops = [[-2.9,[22,34,120]],[-2.2,[12,92,192]],[-1.5,[52,132,210]],[-0.9,[146,185,224]],[-0.4,[200,221,237]],[0,[242,242,238]],[0.5,[249,200,192]],[1.0,[251,155,140]],[1.6,[253,106,85]],[2.2,[250,50,34]],[2.9,[220,28,28]]];
function colorOf(v){
  if (v <= stops[0][0]) return "rgb(" + stops[0][1].join(",") + ")";
  for (let i = 1; i < stops.length; i++) {
    if (v <= stops[i][0]) {
      const a = stops[i-1], b = stops[i], t = (v - a[0]) / (b[0] - a[0]);
      const c = a[1].map((q, k) => Math.round(q + (b[1][k] - q) * t));
      return "rgb(" + c.join(",") + ")";
    }
  }
  return "rgb(" + stops[stops.length-1][1].join(",") + ")";
}
function mk(tag, attrs, parent){ const e = document.createElementNS(NS, tag); for (const k in attrs) e.setAttribute(k, attrs[k]); parent.appendChild(e); return e; }
function rowVals(r){ return dckbValues[r].concat(dcdValues[r]); }

const gCells = document.getElementById("cells");
for (let r = 0; r < nRows; r++) {
  const vals = rowVals(r);
  for (let c = 0; c < nCols; c++) {
    const el = mk("rect", {x: xScale(c).toFixed(2), y: yScale(r).toFixed(2), width: (cw + 0.6).toFixed(2), height: (rh + 0.6).toFixed(2), fill: colorOf(vals[c])}, gCells);
    
    
  }
}
const gGroup = document.getElementById("groupbar");
for (let c = 0; c < nCols; c++) {
  const el = mk("rect", {x: xScale(c).toFixed(2), y: 26, width: (cw + 0.6).toFixed(2), height: 39, fill: sampleGroups[c] === "D2" ? "#cd1c1e" : "#0000cd"}, gGroup);
  
  
}
const gRL = document.getElementById("rowlabels");
for (let r = 0; r < nRows; r++) {
  const t = mk("text", {x: 1951, y: (yScale(r) + rh / 2 + 3.3).toFixed(2), "font-size": 9.3, fill: "#333"}, gRL);
  t.textContent = metabolites[r];
  
  
}
const gCL = document.getElementById("collabels");
for (let c = 0; c < nCols; c++) {
  const cx = xScale(c) + cw / 2;
  const t = mk("text", {x: 0, y: 0, "font-size": 54, fill: "#000", transform: "translate(" + (cx - 19).toFixed(2) + ",2255) rotate(90)"}, gCL);
  t.textContent = samples[c];
  
  
}
const gCB = document.getElementById("colorbar");
const CBT = 25, CBB = 565, VMAX = 2.89;
const cbY = v => CBT + (VMAX - v) / (2 * VMAX) * (CBB - CBT);
for (let i = 0; i < 270; i++) {
  const v = VMAX - (i + 0.5) * (2 * VMAX / 270);
  const el = mk("rect", {x: 2500, y: (CBT + i * 2).toFixed(1), width: 36, height: 2.6, fill: colorOf(v)}, gCB);
  
  
}
for (const tv of colorTicks) {
  const t = mk("text", {x: 2548, y: (cbY(tv) + 13).toFixed(1), "font-size": 36, fill: "#000"}, gCB);
  t.textContent = tv < 0 ? "\u2212" + Math.abs(tv) : String(tv);
  
  
}
const gD = document.getElementById("dendro");
const D = [];
for (let i = 0; i < nRows; i++) { D.push([]); const a = rowVals(i); for (let j = 0; j < nRows; j++) { const b = rowVals(j); let s = 0; for (let k = 0; k < nCols; k++) s += (a[k]-b[k])*(a[k]-b[k]); D[i].push(Math.sqrt(s)); } }
let clusters = [];
for (let i = 0; i < nRows; i++) clusters.push({members: [i], y: yScale(i) + rh / 2, h: 0});
const merges = [];
function link(A, B){ let s = 0; for (const i of A.members) for (const j of B.members) s += D[i][j]; return s / (A.members.length * B.members.length); }
while (clusters.length > 1) {
  let best = -1, bd = Infinity;
  for (let i = 0; i < clusters.length - 1; i++) { const d = link(clusters[i], clusters[i+1]); if (d < bd) { bd = d; best = i; } }
  const A = clusters[best], B = clusters[best+1];
  const h = Math.max(bd, A.h, B.h);
  const node = {members: A.members.concat(B.members), y: (A.y + B.y) / 2, h: h, a: A, b: B};
  merges.push(node);
  clusters.splice(best, 2, node);
}
const hmax = clusters[0].h;
const hx = h => 206 - 182 * Math.pow(h / hmax, 1.1);
let dpath = "";
for (const m of merges) {
  const x = hx(m.h), xa = hx(m.a.h), xb = hx(m.b.h);
  dpath += "M" + xa.toFixed(1) + "," + m.a.y.toFixed(1) + "H" + x.toFixed(1) + "V" + m.b.y.toFixed(1) + "H" + xb.toFixed(1);
}
const dp = mk("path", {d: dpath, fill: "none", stroke: "#111", "stroke-width": 2.6}, gD);


</script>
</body></html>
